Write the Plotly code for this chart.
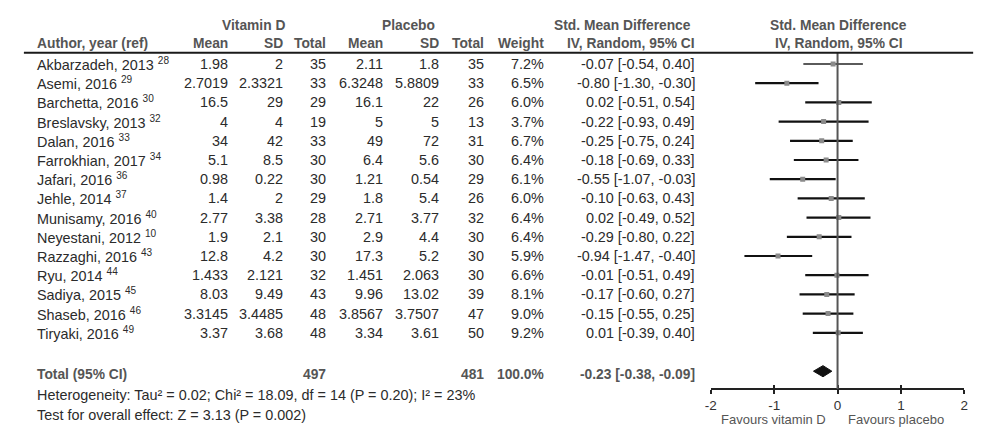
import plotly.graph_objects as go

# ---------------- data ----------------
authors = ["Akbarzadeh, 2013", "Asemi, 2016", "Barchetta, 2016", "Breslavsky, 2013",
           "Dalan, 2016", "Farrokhian, 2017", "Jafari, 2016", "Jehle, 2014",
           "Munisamy, 2016", "Neyestani, 2012", "Razzaghi, 2016", "Ryu, 2014",
           "Sadiya, 2015", "Shaseb, 2016", "Tiryaki, 2016"]
refs = [28, 29, 30, 32, 33, 34, 36, 37, 40, 10, 43, 44, 45, 46, 49]
vd_mean = ["1.98", "2.7019", "16.5", "4", "34", "5.1", "0.98", "1.4", "2.77", "1.9",
           "12.8", "1.433", "8.03", "3.3145", "3.37"]
vd_sd = ["2", "2.3321", "29", "4", "42", "8.5", "0.22", "2", "3.38", "2.1",
         "4.2", "2.121", "9.49", "3.4485", "3.68"]
vd_n = [35, 33, 29, 19, 33, 30, 30, 29, 28, 30, 30, 32, 43, 48, 48]
pl_mean = ["2.11", "6.3248", "16.1", "5", "49", "6.4", "1.21", "1.8", "2.71", "2.9",
           "17.3", "1.451", "9.96", "3.8567", "3.34"]
pl_sd = ["1.8", "5.8809", "22", "5", "72", "5.6", "0.54", "5.4", "3.77", "4.4",
         "5.2", "2.063", "13.02", "3.7507", "3.61"]
pl_n = [35, 33, 26, 13, 31, 30, 29, 26, 32, 30, 30, 30, 39, 47, 50]
weights = [7.2, 6.5, 6.0, 3.7, 6.7, 6.4, 6.1, 6.0, 6.4, 6.4, 5.9, 6.6, 8.1, 9.0, 9.2]
smd = [-0.07, -0.80, 0.02, -0.22, -0.25, -0.18, -0.55, -0.10, 0.02, -0.29, -0.94,
       -0.01, -0.17, -0.15, 0.01]
ci_lo = [-0.54, -1.30, -0.51, -0.93, -0.75, -0.69, -1.07, -0.63, -0.49, -0.80, -1.47,
         -0.51, -0.60, -0.55, -0.39]
ci_hi = [0.40, -0.30, 0.54, 0.49, 0.24, 0.33, -0.03, 0.43, 0.52, 0.22, -0.40,
         0.49, 0.27, 0.25, 0.40]
total_vd_n = 497
total_pl_n = 481
total_weight = 100.0
total_smd, total_lo, total_hi = -0.23, -0.38, -0.09
x_ticks = [-2, -1, 0, 1, 2]
heterogeneity = "Heterogeneity: Tau² = 0.02; Chi² = 18.09, df = 14 (P = 0.20); I² = 23%"
overall = "Test for overall effect: Z = 3.13 (P = 0.002)"

# ---------------- layout helpers ----------------
W, H = 984, 442
OFF = 8                          # page body margin offset of the rendered div
ROW0, STEP = 64.0, 19.2          # screen pixel y of row 0 and row pitch


def row_of(py):
    """screen pixel y -> row coordinate"""
    return (py - ROW0) / STEP


def px(x):
    """screen pixel x -> paper fraction"""
    return (x - OFF) / W


FONT = "Liberation Sans, Arial, sans-serif"
TXT = "#2b2b2b"
HDR = "#555555"
BODY = 14.4
BOLD = 13.8

n = len(authors)
total_row = 16

fig = go.Figure()

# CI lines
xs, ys = [], []
for i in range(1, n):
    xs += [ci_lo[i], ci_hi[i], None]
    ys += [i, i, None]
fig.add_trace(go.Scatter(x=[ci_lo[0], ci_hi[0]], y=[0, 0], mode="lines",
                         line=dict(color="#5a5a5a", width=2.2), hoverinfo="skip",
                         showlegend=False))
fig.add_trace(go.Scatter(x=xs, y=ys, mode="lines", line=dict(color="#111111", width=2.2),
                         hoverinfo="skip", showlegend=False))
# point estimates
fig.add_trace(go.Scatter(x=smd, y=list(range(n)), mode="markers",
                         marker=dict(symbol="square", color="#8a8a8a", size=5,
                                     line=dict(width=0)),
                         showlegend=False))
# pooled diamond
dh = 0.29
fig.add_trace(go.Scatter(x=[total_lo, total_smd, total_hi, total_smd, total_lo],
                         y=[total_row, total_row - dh, total_row, total_row + dh, total_row],
                         mode="lines", fill="toself", fillcolor="#111111",
                         line=dict(color="#111111", width=1), showlegend=False,
                         hoverinfo="skip"))
# invisible trace to activate overlay axis (crossing ticks)
fig.add_trace(go.Scatter(x=[0], y=[0], xaxis="x2", mode="markers",
                         marker=dict(opacity=0), showlegend=False, hoverinfo="skip"))

axis_py = 389
axis_pos = (H - (axis_py - OFF)) / H
dom = [px(712), px(968)]

fig.update_layout(
    width=W, height=H, margin=dict(l=0, r=0, t=0, b=0),
    paper_bgcolor="white", plot_bgcolor="rgba(0,0,0,0)",
    font=dict(family=FONT, size=BODY, color=TXT),
    xaxis=dict(domain=dom, range=[-2, 2], anchor="free", position=axis_pos,
               showline=True, linecolor="#222222", linewidth=2,
               ticks="outside", ticklen=4, tickwidth=2, tickcolor="#222222",
               tickvals=x_ticks, ticktext=[str(t) for t in x_ticks],
               tickfont=dict(size=13.5, color="#333333"),
               showgrid=False, zeroline=False, fixedrange=True),
    xaxis2=dict(domain=dom, range=[-2, 2], anchor="free", position=axis_pos,
                overlaying="x", showline=False, ticks="inside", ticklen=4,
                tickwidth=2, tickcolor="#222222", tickvals=x_ticks,
                showticklabels=False, showgrid=False, zeroline=False),
    yaxis=dict(domain=[0, 1], range=[row_of(H + OFF), row_of(OFF)], visible=False,
               fixedrange=True),
    showlegend=False,
)

# zero line and header rule
fig.add_shape(type="line", xref="x", yref="y", x0=0, x1=0,
              y0=row_of(53), y1=row_of(axis_py), line=dict(color="#555555", width=2))
fig.add_shape(type="line", xref="paper", yref="y", x0=px(18), x1=px(977),
              y0=row_of(52.7), y1=row_of(52.7), line=dict(color="#1a1a1a", width=2))

ann = []


def add(text, x, y, anchor="right", bold=False, color=TXT, size=BODY):
    if bold:
        text = "<b>" + text + "</b>"
        size = BOLD
    ann.append(dict(text=text, x=px(x), y=y, xref="paper", yref="y",
                    xanchor=anchor, yanchor="middle", showarrow=False,
                    font=dict(size=size, color=color, family=FONT)))


# headers
h1 = row_of(25)
h2 = row_of(43.5)
add("Vitamin D", 250, h1, "center", True, HDR)
add("Placebo", 407, h1, "center", True, HDR)
add("Std. Mean Difference", 694, h1, "right", True, HDR)
add("Std. Mean Difference", 841, h1, "center", True, HDR)
add("Author, year (ref)", 29, h2, "left", True, HDR)
add("Mean", 226, h2, "right", True, HDR)
add("SD", 282, h2, "right", True, HDR)
add("Total", 325, h2, "right", True, HDR)
add("Mean", 383, h2, "right", True, HDR)
add("SD", 439, h2, "right", True, HDR)
add("Total", 485, h2, "right", True, HDR)
add("Weight", 545, h2, "right", True, HDR)
add("IV, Random, 95% CI", 698, h2, "right", True, HDR)
add("IV, Random, 95% CI", 841, h2, "center", True, HDR)

# rows
for i in range(n):
    add(f"{authors[i]} <sup>{refs[i]}</sup>", 29, i, "left")
    add(vd_mean[i], 226, i)
    add(vd_sd[i], 282, i)
    add(str(vd_n[i]), 325, i)
    add(pl_mean[i], 383, i)
    add(pl_sd[i], 439, i)
    add(str(pl_n[i]), 485, i)
    add(f"{weights[i]:.1f}%", 545, i)
    add(f"{smd[i]:.2f} [{ci_lo[i]:.2f}, {ci_hi[i]:.2f}]", 698, i)

# total row
tr = row_of(374)
add("Total (95% CI)", 29, tr, "left", True, HDR)
add(str(total_vd_n), 325, tr, "right", True, HDR)
add(str(total_pl_n), 485, tr, "right", True, HDR)
add(f"{total_weight:.1f}%", 545, tr, "right", True, HDR)
add(f"{total_smd:.2f} [{total_lo:.2f}, {total_hi:.2f}]", 698, tr, "right", True, HDR)

add(heterogeneity, 29, row_of(395), "left")
add(overall, 29, row_of(415), "left")

# favours labels
ann.append(dict(text="Favours vitamin D", x=0, y=row_of(419), xref="x", yref="y",
                xanchor="right", yanchor="middle", xshift=-10, showarrow=False,
                font=dict(size=13, color="#555555", family=FONT)))
ann.append(dict(text="Favours placebo", x=0, y=row_of(419), xref="x", yref="y",
                xanchor="left", yanchor="middle", xshift=8, showarrow=False,
                font=dict(size=13, color="#555555", family=FONT)))

fig.update_layout(annotations=ann)
fig.write_html("out.html")
